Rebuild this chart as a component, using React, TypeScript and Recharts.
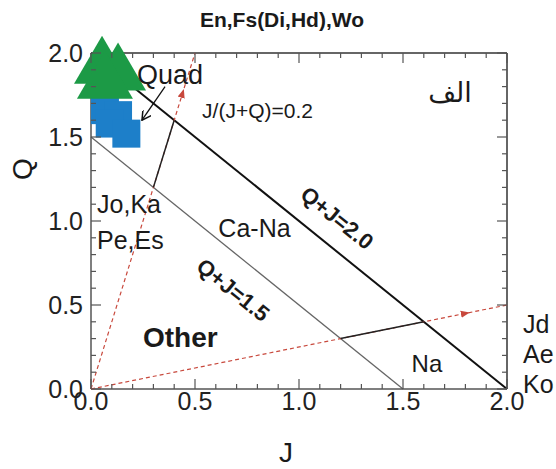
import React from 'react';
import { ScatterChart, Scatter, XAxis, YAxis, ReferenceLine, ReferenceDot } from 'recharts';

// axis ticks
const majorTicks = [0, 0.5, 1.0, 1.5, 2.0];
const minorTicks = [0, 0.1, 0.2, 0.3, 0.4, 0.5, 0.6, 0.7, 0.8, 0.9, 1.0, 1.1, 1.2, 1.3, 1.4, 1.5, 1.6, 1.7, 1.8, 1.9, 2.0];

// sample points
const triJ = [0.053, 0.13, 0.067];
const triQ = [1.96, 1.92, 1.87];
const sqJ = [0.067, 0.13, 0.09, 0.17];
const sqQ = [1.66, 1.63, 1.58, 1.52];

// J/(J+Q)=0.2 ray (red dashed) and its solid segment
const rayLowJ = [0, 0.44, 0.5];
const rayLowQ = [0, 1.76, 2.0];
const segLowJ = [0.3, 0.4];
const segLowQ = [1.2, 1.6];

// J/(J+Q)=0.8 ray and its solid segment
const rayHighJ = [0, 1.8, 2.0];
const rayHighQ = [0, 0.45, 0.5];
const segHighJ = [1.2, 1.6];
const segHighQ = [0.3, 0.4];

// Quad pointer
const quadArrowJ = [0.356, 0.245];
const quadArrowQ = [1.8, 1.6];

const zip = (js: number[], qs: number[]) => js.map((J, i) => ({ J, Q: qs[i] }));

const labels = [
  { text: 'Quad', J: 0.221, Q: 1.815, size: 27, anchor: 'start' },
  { text: 'J/(J+Q)=0.2', J: 0.534, Q: 1.613, size: 21, anchor: 'start' },
  { text: 'الف', J: 1.726, Q: 1.708, size: 27, anchor: 'middle' },
  { text: 'Ca-Na', J: 0.786, Q: 0.905, size: 25, anchor: 'middle' },
  { text: 'Jo,Ka', J: 0.029, Q: 1.048, size: 25, anchor: 'start' },
  { text: 'Pe,Es', J: 0.029, Q: 0.833, size: 25, anchor: 'start' },
  { text: 'Other', J: 0.25, Q: 0.25, size: 28, anchor: 'start', bold: true },
  { text: 'Na', J: 1.615, Q: 0.101, size: 24, anchor: 'middle' },
  { text: 'Q+J=2.0', J: 1.183, Q: 1.018, size: 22, anchor: 'middle', bold: true, rot: 38.9 },
  { text: 'Q+J=1.5', J: 0.683, Q: 0.589, size: 22, anchor: 'middle', bold: true, rot: 38.9 },
];

const sideLabels = ['Jd', 'Ae', 'Ko'];

const FONT = '"Liberation Sans", Arial, sans-serif';
const RED = '#c8483c';
const TICK = '#555';

const Triangle = (p: any) => {
  const s = 56, h = 48;
  return (
    <polygon
      points={`${p.cx},${p.cy - h / 2} ${p.cx - s / 2},${p.cy + h / 2} ${p.cx + s / 2},${p.cy + h / 2}`}
      fill="#1c9a46"
    />
  );
};

const Square = (p: any) => <rect x={p.cx - 14} y={p.cy - 14} width={28} height={28} fill="#1d7fc9" />;

const Nothing = () => <g />;

const isMajor = (v: number) => majorTicks.some((m) => Math.abs(m - v) < 1e-6);

// tick marks point inward on every side; bottom and left also carry the numbers
const makeTick = (side: 'bottom' | 'left' | 'top' | 'right') => (p: any) => {
  const v = p.payload.value;
  const len = isMajor(v) ? 10 : 5;
  const { x, y } = p;
  if (side === 'bottom') {
    return (
      <g>
        <line x1={x} x2={x} y1={y} y2={y - len} stroke={TICK} strokeWidth={1.2} />
        {isMajor(v) && (
          <text x={x} y={y + 3} dy="0.71em" textAnchor="middle" fontSize={25} fill="#222" fontFamily={FONT}>{v.toFixed(1)}</text>
        )}
      </g>
    );
  }
  if (side === 'left') {
    return (
      <g>
        <line x1={x} x2={x + len} y1={y} y2={y} stroke={TICK} strokeWidth={1.2} />
        {isMajor(v) && (
          <text x={x - 8} y={y} dy="0.355em" textAnchor="end" fontSize={25} fill="#222" fontFamily={FONT}>{v.toFixed(1)}</text>
        )}
      </g>
    );
  }
  if (side === 'top') return <line x1={x} x2={x} y1={y} y2={y + len} stroke={TICK} strokeWidth={1.2} />;
  return <line x1={x} x2={x - len} y1={y} y2={y} stroke={TICK} strokeWidth={1.2} />;
};

const App = () => {
  return (
    <div style={{ position: 'absolute', left: 0, top: 0, width: 556, height: 469, background: '#fff', fontFamily: FONT }}>
      <ScatterChart width={556} height={469} margin={{ top: 53, right: 49, bottom: 50, left: 31 }}>
        <defs>
          <marker id="redArrow" viewBox="0 0 10 10" refX="5" refY="5" markerWidth="9" markerHeight="9" orient="auto" markerUnits="userSpaceOnUse">
            <path d="M0,1 L10,5 L0,9 z" fill={RED} />
          </marker>
          <marker id="blackArrow" viewBox="0 0 10 10" refX="9" refY="5" markerWidth="10" markerHeight="10" orient="auto" markerUnits="userSpaceOnUse">
            <path d="M0,0 L9,5 L0,10" fill="none" stroke="#111" strokeWidth={1.5} />
          </marker>
        </defs>

        <XAxis xAxisId="x" type="number" dataKey="J" domain={[0, 2]} ticks={minorTicks} interval={0}
          height={30} tickLine={false} tickSize={0} tickMargin={0}
          axisLine={{ stroke: '#555', strokeWidth: 1.5 }} tick={makeTick('bottom')} />
        <YAxis yAxisId="y" type="number" dataKey="Q" domain={[0, 2]} ticks={minorTicks} interval={0}
          width={60} tickLine={false} tickSize={0} tickMargin={0}
          axisLine={{ stroke: '#555', strokeWidth: 1.5 }} tick={makeTick('left')} />
        <XAxis xAxisId="t" orientation="top" mirror type="number" dataKey="J" domain={[0, 2]} ticks={minorTicks} interval={0}
          height={1} tickLine={false} tickSize={0} tickMargin={0}
          axisLine={{ stroke: '#333', strokeWidth: 1.5 }} tick={makeTick('top')} />
        <YAxis yAxisId="r" orientation="right" mirror type="number" dataKey="Q" domain={[0, 2]} ticks={minorTicks} interval={0}
          width={1} tickLine={false} tickSize={0} tickMargin={0}
          axisLine={{ stroke: '#333', strokeWidth: 1.5 }} tick={makeTick('right')} />

        {/* field boundaries */}
        <ReferenceLine xAxisId="x" yAxisId="y" segment={[{ x: 0, y: 1.5 }, { x: 1.5, y: 0 }]} stroke="#666" strokeWidth={1.3} />
        <ReferenceLine xAxisId="x" yAxisId="y" segment={[{ x: 0, y: 2 }, { x: 2, y: 0 }]} stroke="#111" strokeWidth={2} />

        <Scatter xAxisId="x" yAxisId="y" data={zip(rayLowJ, rayLowQ)} shape={Nothing} isAnimationActive={false}
          line={{ stroke: RED, strokeWidth: 1.2, strokeDasharray: '4 3', markerMid: 'url(#redArrow)' }} />
        <Scatter xAxisId="x" yAxisId="y" data={zip(rayHighJ, rayHighQ)} shape={Nothing} isAnimationActive={false}
          line={{ stroke: RED, strokeWidth: 1.2, strokeDasharray: '4 3', markerMid: 'url(#redArrow)' }} />
        <Scatter xAxisId="x" yAxisId="y" data={zip(segLowJ, segLowQ)} shape={Nothing} isAnimationActive={false}
          line={{ stroke: '#222', strokeWidth: 1.5 }} />
        <Scatter xAxisId="x" yAxisId="y" data={zip(segHighJ, segHighQ)} shape={Nothing} isAnimationActive={false}
          line={{ stroke: '#222', strokeWidth: 1.5 }} />
        <Scatter xAxisId="x" yAxisId="y" data={zip(quadArrowJ, quadArrowQ)} shape={Nothing} isAnimationActive={false}
          line={{ stroke: '#111', strokeWidth: 1.3, markerEnd: 'url(#blackArrow)' }} />

        <Scatter xAxisId="t" yAxisId="r" data={zip(sqJ, sqQ)} shape={Square} isAnimationActive={false} />
        <Scatter xAxisId="x" yAxisId="y" data={zip(triJ, triQ)} shape={Triangle} isAnimationActive={false} />

        {labels.map((l) => (
          <ReferenceDot key={l.text} xAxisId="x" yAxisId="y" x={l.J} y={l.Q} r={0} ifOverflow="visible"
            shape={(p: any) => (
              <text x={p.cx} y={p.cy} textAnchor={l.anchor as any} fontSize={l.size} fontWeight={l.bold ? 'bold' : 'normal'}
                fill="#1a1a1a" fontFamily={l.text === 'الف' ? '"DejaVu Sans", sans-serif' : FONT}
                dominantBaseline={l.rot ? 'central' : 'auto'}
                transform={l.rot ? `rotate(${l.rot} ${p.cx} ${p.cy})` : undefined}>
                {l.text}
              </text>
            )} />
        ))}
      </ScatterChart>

      <svg width={556} height={469} style={{ position: 'absolute', left: 0, top: 0, pointerEvents: 'none' }}>
        <text x={282} y={27} textAnchor="middle" fontSize={21} fontWeight="bold" fontFamily={FONT} fill="#1a1a1a">En,Fs(Di,Hd),Wo</text>
        <text x={22} y={169} textAnchor="middle" dominantBaseline="central" fontSize={28} fontFamily={FONT} fill="#1a1a1a" transform="rotate(-90 22 169)">Q</text>
        <text x={286} y={462} textAnchor="middle" fontSize={28} fontFamily={FONT} fill="#1a1a1a">J</text>
        {sideLabels.map((s, i) => (
          <text key={s} x={523} y={333 + i * 30} fontSize={25} fontFamily={FONT} fill="#1a1a1a">{s}</text>
        ))}
      </svg>
    </div>
  );
};

export default App;
